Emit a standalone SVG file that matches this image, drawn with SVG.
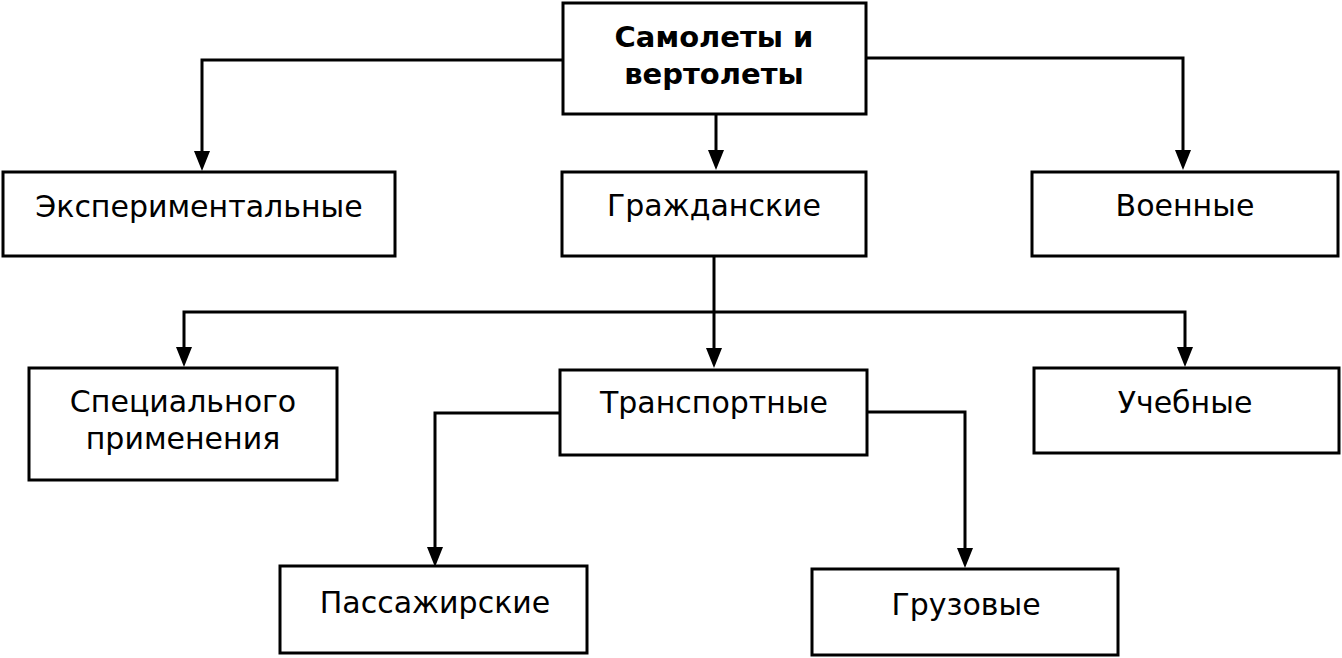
<svg xmlns="http://www.w3.org/2000/svg" width="1342" height="658" viewBox="0 0 1342 658">
<defs>
<style>
.box{fill:#fff;stroke:#000;stroke-width:3}
.t{font-family:"DejaVu Sans","Verdana",sans-serif;font-size:30px;fill:#000;text-anchor:middle}
.b{font-weight:bold;font-size:29px}
.c{fill:none;stroke:#000;stroke-width:3}
</style>
</defs>
<rect width="1342" height="658" fill="#fff"/>
<g id="connectors">
<path class="c" d="M563,60 H202 V152"/>
<polygon points="194,151 210,151 202,171"/>
<path class="c" d="M716,114 V151"/>
<polygon points="708,150 724,150 716,170"/>
<path class="c" d="M866,58 H1183 V151"/>
<polygon points="1175,150 1191,150 1183,170"/>
<path class="c" d="M714,256 V349"/>
<polygon points="706,348 722,348 714,368"/>
<path class="c" d="M184,348 V312 H1185 V348"/>
<polygon points="176,347 192,347 184,367"/>
<polygon points="1177,347 1193,347 1185,367"/>
<path class="c" d="M560,413 H435 V548"/>
<polygon points="427,547 443,547 435,567"/>
<path class="c" d="M867,412 H965 V549"/>
<polygon points="957,548 973,548 965,568"/>
</g>
<g id="n-root"><rect class="box" x="563" y="3" width="303" height="111"/>
<text class="t b" x="714" y="47">Самолеты и</text><text class="t b" x="714" y="84">вертолеты</text></g>
<g id="n-exp"><rect class="box" x="3" y="172" width="392" height="84"/>
<text class="t" x="199" y="217">Экспериментальные</text></g>
<g id="n-civ"><rect class="box" x="562" y="172" width="304" height="84"/>
<text class="t" x="714" y="216">Гражданские</text></g>
<g id="n-mil"><rect class="box" x="1032" y="172" width="306" height="84"/>
<text class="t" x="1185" y="216">Военные</text></g>
<g id="n-spec"><rect class="box" x="29" y="368" width="308" height="112"/>
<text class="t" x="183" y="412">Специального</text><text class="t" x="183" y="449">применения</text></g>
<g id="n-trans"><rect class="box" x="560" y="370" width="307" height="85"/>
<text class="t" x="714" y="413">Транспортные</text></g>
<g id="n-edu"><rect class="box" x="1034" y="368" width="305" height="85"/>
<text class="t" x="1185" y="413">Учебные</text></g>
<g id="n-pass"><rect class="box" x="280" y="566" width="307" height="87"/>
<text class="t" x="435" y="613">Пассажирские</text></g>
<g id="n-cargo"><rect class="box" x="812" y="569" width="306" height="86"/>
<text class="t" x="966" y="615">Грузовые</text></g>
</svg>
